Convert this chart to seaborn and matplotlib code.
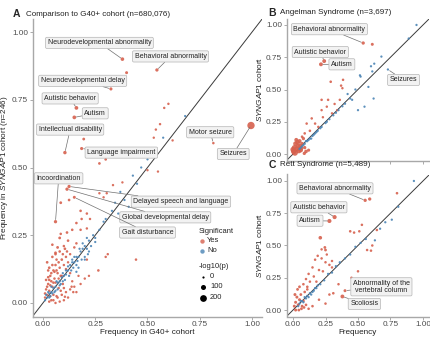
import matplotlib
matplotlib.use("Agg")
import matplotlib.pyplot as plt
import seaborn as sns
import pandas as pd

# ---------------- data ----------------
# Panel A (G40+ comparison) - significant points
a_yes_x = [0.38, 0.545, 0.325, 0.16, 0.15, 0.105, 0.185, 0.815, 0.995, 0.06, 0.125, 0.115, 0.15,
           0.40, 0.195, 0.27, 0.30, 0.58, 0.60, 0.54, 0.56, 0.62, 0.53,
           0.085, 0.125, 0.18, 0.21, 0.185, 0.16, 0.225, 0.14, 0.115, 0.18, 0.21, 0.08, 0.12, 0.16,
           0.07, 0.105, 0.15, 0.06, 0.09, 0.27, 0.305, 0.29, 0.335, 0.38, 0.445, 0.30, 0.265, 0.21,
           0.55, 0.50, 0.31, 0.02, 0.03, 0.045, 0.05, 0.035, 0.06, 0.07, 0.08, 0.04, 0.055, 0.025,
           0.015, 0.03, 0.045, 0.02, 0.01, 0.035, 0.06, 0.075, 0.09, 0.10, 0.11, 0.095, 0.13, 0.12,
           0.05, 0.07, 0.09, 0.11, 0.13, 0.15, 0.08, 0.12, 0.16, 0.18, 0.20, 0.22, 0.14, 0.06, 0.10,
           0.17, 0.137, 0.105, 0.145, 0.04, 0.065, 0.085, 0.03, 0.05, 0.075, 0.095, 0.025, 0.055,
           0.035, 0.065, 0.015, 0.045, 0.11, 0.085, 0.13, 0.10,
           0.01, 0.02, 0.03, 0.04, 0.05, 0.065, 0.075, 0.085, 0.025, 0.045, 0.06, 0.08, 0.10, 0.115]
a_yes_y = [0.90, 0.86, 0.79, 0.72, 0.685, 0.555, 0.57, 0.59, 0.655, 0.30, 0.43, 0.42, 0.39,
           0.85, 0.605, 0.515, 0.53, 0.72, 0.735, 0.64, 0.66, 0.60, 0.61,
           0.37, 0.38, 0.34, 0.33, 0.31, 0.295, 0.31, 0.27, 0.26, 0.27, 0.275, 0.24, 0.23, 0.22,
           0.205, 0.20, 0.205, 0.185, 0.16, 0.405, 0.405, 0.39, 0.435, 0.445, 0.16, 0.17, 0.12, 0.16,
           0.485, 0.49, 0.18, 0.15, 0.13, 0.17, 0.12, 0.10, 0.14, 0.11, 0.13, 0.08, 0.09, 0.07,
           0.05, 0.045, 0.06, 0.03, 0.02, 0.025, 0.075, 0.09, 0.10, 0.14, 0.17, 0.18, 0.18, 0.15,
           0.01, 0.02, 0.03, 0.04, 0.05, 0.06, 0.005, 0.02, 0.04, 0.07, 0.09, 0.10, 0.08, 0.0, 0.01,
           0.10, 0.06, 0.023, 0.04, 0.01, 0.025, 0.045, 0.005, 0.03, 0.055, 0.07, 0.095, 0.115,
           0.065, 0.16, 0.085, 0.215, 0.125, 0.255, 0.11, 0.055,
           0.035, 0.06, 0.085, 0.11, 0.075, 0.12, 0.15, 0.10, 0.12, 0.14, 0.18, 0.19, 0.21, 0.19]
a_yes_p = [40, 30, 25, 45, 45, 35, 25, 8, 240, 30, 30, 30, 20,
           20, 15, 12, 12, 6, 6, 6, 6, 5, 4,
           15, 12, 10, 8, 8, 10, 6, 10, 12, 8, 6, 15, 10, 8,
           15, 12, 8, 15, 12, 6, 6, 5, 5, 4, 8, 6, 10, 6,
           4, 4, 6, 12, 12, 10, 10, 10, 10, 8, 8, 10, 8, 10,
           8, 8, 8, 6, 6, 5, 6, 6, 5, 6, 8, 8, 6, 5,
           8, 8, 8, 6, 6, 5, 6, 6, 5, 5, 5, 4, 5, 6, 6,
           4, 6, 6, 6, 8, 8, 8, 8, 8, 8, 8, 10, 8,
           8, 8, 10, 10, 6, 8, 6, 8,
           10, 10, 10, 10, 10, 10, 10, 10, 10, 10, 10, 10, 8, 8]

# Panel A - non-significant points
a_no_x = [0.01, 0.02, 0.03, 0.04, 0.05, 0.06, 0.07, 0.08, 0.09, 0.10, 0.11, 0.12, 0.13, 0.14,
          0.15, 0.16, 0.17, 0.18, 0.19, 0.20, 0.21, 0.22, 0.24, 0.25, 0.27, 0.30, 0.33, 0.345,
          0.37, 0.41, 0.25, 0.20, 0.185, 0.43, 0.47, 0.50, 0.575, 0.68, 0.45, 0.015, 0.03, 0.04,
          0.055, 0.065, 0.08, 0.095, 0.105, 0.12, 0.135, 0.15, 0.16, 0.175, 0.14, 0.11, 0.07,
          0.045, 0.025, 0.20, 0.22, 0.19, 0.21, 0.23, 0.16, 0.17, 0.125, 0.085, 0.06, 0.035,
          0.145, 0.165, 0.095, 0.215, 0.39, 0.36, 0.29]
a_no_y = [0.01, 0.02, 0.035, 0.04, 0.055, 0.06, 0.075, 0.08, 0.095, 0.10, 0.12, 0.12, 0.14, 0.15,
          0.15, 0.17, 0.17, 0.19, 0.20, 0.21, 0.20, 0.23, 0.25, 0.24, 0.27, 0.31, 0.34, 0.37,
          0.41, 0.355, 0.225, 0.17, 0.16, 0.47, 0.50, 0.53, 0.61, 0.69, 0.44, 0.03, 0.02, 0.06,
          0.04, 0.08, 0.065, 0.11, 0.085, 0.135, 0.12, 0.17, 0.14, 0.20, 0.16, 0.105, 0.05,
          0.035, 0.04, 0.16, 0.19, 0.22, 0.24, 0.21, 0.115, 0.13, 0.10, 0.07, 0.045, 0.025,
          0.13, 0.155, 0.08, 0.18, 0.38, 0.33, 0.30]
a_no_p = [2, 2, 2, 2, 2, 2, 2, 2, 2, 2, 2, 2, 2, 2,
          2, 2, 2, 2, 2, 2, 2, 2, 1, 1, 1, 1, 1, 1,
          1, 1, 1, 1, 1, 1, 1, 1, 1, 1, 1, 2, 2, 2,
          2, 2, 2, 2, 2, 2, 2, 2, 2, 2, 2, 2, 2,
          2, 2, 1, 1, 1, 1, 1, 2, 2, 2, 2, 2, 2,
          2, 2, 2, 1, 1, 1, 1]

# Panel B (Angelman) - significant
b_yes_x = [0.54, 0.61, 0.24, 0.215, 0.29, 0.385, 0.37, 0.38, 0.27, 0.36, 0.22, 0.32, 0.26, 0.22,
           0.30, 0.34, 0.144, 0.17, 0.195, 0.13, 0.09, 0.07, 0.105, 0.23,
           0.005, 0.01, 0.02, 0.03, 0.04, 0.015, 0.05, 0.06, 0.025, 0.07, 0.08, 0.09, 0.10, 0.087,
           0.035, 0.045, 0.0, 0.055, 0.12, 0.065]
b_yes_y = [0.86, 0.85, 0.72, 0.695, 0.56, 0.575, 0.53, 0.51, 0.42, 0.42, 0.42, 0.388, 0.367, 0.34,
           0.315, 0.34, 0.276, 0.236, 0.21, 0.18, 0.16, 0.134, 0.236, 0.285,
           0.02, 0.05, 0.08, 0.04, 0.06, 0.01, 0.10, 0.03, 0.11, 0.08, 0.12, 0.05, 0.02, 0.005,
           0.09, 0.025, 0.035, 0.065, 0.03, 0.045]
b_yes_p = [30, 20, 50, 50, 10, 8, 8, 6, 8, 6, 8, 6, 6, 6,
           6, 6, 8, 8, 8, 10, 10, 12, 8, 6,
           120, 100, 90, 110, 80, 150, 60, 70, 50, 40, 30, 30, 40, 30,
           90, 100, 110, 60, 25, 50]

# Panel B - non-significant
b_no_x = [0.95, 0.89, 0.68, 0.625, 0.60, 0.61, 0.515, 0.52, 0.73, 0.42, 0.455, 0.50, 0.55, 0.62,
          0.58, 0.48, 0.10, 0.12, 0.15, 0.18, 0.21, 0.25, 0.28, 0.31, 0.35, 0.38, 0.40, 0.44,
          0.05, 0.07, 0.09, 0.11, 0.13, 0.16, 0.19, 0.06, 0.08, 0.14, 0.17, 0.22, 0.26, 0.33]
b_no_y = [1.0, 0.895, 0.755, 0.70, 0.68, 0.64, 0.61, 0.60, 0.655, 0.465, 0.42, 0.34, 0.367, 0.43,
          0.52, 0.50, 0.10, 0.11, 0.14, 0.17, 0.20, 0.24, 0.27, 0.30, 0.34, 0.37, 0.39, 0.43,
          0.04, 0.06, 0.08, 0.10, 0.12, 0.15, 0.18, 0.05, 0.07, 0.12, 0.16, 0.21, 0.25, 0.32]
b_no_p = [2, 2, 2, 2, 2, 2, 2, 2, 2, 2, 2, 2, 2, 2,
          2, 2, 3, 3, 3, 3, 3, 3, 3, 3, 3, 3, 3, 3,
          3, 3, 3, 3, 3, 3, 3, 3, 3, 3, 3, 3, 3, 3]

# Panel C (Rett) - significant
c_yes_x = [0.555, 0.59, 0.32, 0.28, 0.40, 0.38, 0.80, 0.21, 0.245, 0.25, 0.44, 0.47, 0.51, 0.61,
           0.60, 0.57, 0.53, 0.645, 0.31, 0.17, 0.19, 0.22, 0.25, 0.28, 0.15, 0.20, 0.23, 0.12,
           0.16, 0.10, 0.13, 0.18, 0.08, 0.11, 0.30, 0.30, 0.26, 0.22, 0.45, 0.50, 0.35, 0.28,
           0.20, 0.25, 0.15, 0.12, 0.01, 0.02, 0.03, 0.04, 0.05, 0.06, 0.07, 0.08, 0.09, 0.02,
           0.035, 0.05, 0.065, 0.015, 0.045, 0.10, 0.085, 0.11]
c_yes_y = [0.85, 0.86, 0.72, 0.69, 0.15, 0.105, 0.905, 0.56, 0.485, 0.465, 0.61, 0.60, 0.61, 0.50,
           0.46, 0.465, 0.66, 0.62, 0.13, 0.39, 0.42, 0.40, 0.37, 0.35, 0.33, 0.31, 0.30, 0.28,
           0.26, 0.24, 0.22, 0.22, 0.20, 0.18, 0.33, 0.38, 0.43, 0.47, 0.25, 0.30, 0.20, 0.12,
           0.08, 0.05, 0.03, 0.01, 0.03, 0.06, 0.10, 0.04, 0.08, 0.12, 0.03, 0.07, 0.14, 0.0,
           0.16, 0.18, 0.01, 0.12, 0.0, 0.04, 0.02, 0.16]
c_yes_p = [30, 30, 60, 60, 20, 50, 10, 40, 15, 15, 10, 8, 8, 8,
           8, 8, 8, 8, 10, 8, 8, 8, 8, 8, 8, 8, 8, 8,
           8, 8, 8, 8, 10, 10, 6, 6, 6, 6, 8, 8, 8, 8,
           8, 8, 10, 10, 20, 20, 20, 20, 20, 15, 15, 15, 12, 20,
           15, 15, 15, 20, 15, 12, 12, 10]

# Panel C - non-significant
c_no_x = [0.93, 0.81, 0.63, 0.76, 0.05, 0.07, 0.09, 0.11, 0.13, 0.15, 0.17, 0.19, 0.21, 0.24,
          0.27, 0.30, 0.33, 0.36, 0.40, 0.44, 0.48, 0.52, 0.56, 0.04, 0.06, 0.08, 0.10, 0.12,
          0.14, 0.16, 0.18, 0.67, 0.71]
c_no_y = [1.0, 0.80, 0.54, 0.70, 0.05, 0.07, 0.10, 0.11, 0.13, 0.14, 0.17, 0.19, 0.20, 0.23,
          0.28, 0.29, 0.34, 0.37, 0.40, 0.43, 0.49, 0.52, 0.55, 0.03, 0.07, 0.06, 0.09, 0.10,
          0.12, 0.15, 0.17, 0.63, 0.68]
c_no_p = [2, 2, 2, 2, 3, 3, 3, 3, 3, 3, 3, 3, 3, 3,
          2, 2, 2, 2, 2, 2, 2, 2, 2, 3, 3, 3, 3, 3,
          3, 3, 3, 2, 2]

# labels: text, point position, label position
a_lab_text = ["Neurodevelopmental abnormality", "Behavioral abnormality", "Neurodevelopmental delay",
              "Autistic behavior", "Autism", "Intellectual disability", "Language impairment",
              "Motor seizure", "Seizures", "Incoordination", "Delayed speech and language",
              "Global developmental delay", "Gait disturbance"]
a_lab_px = [0.38, 0.545, 0.325, 0.16, 0.15, 0.105, 0.185, 0.815, 0.995, 0.06, 0.125, 0.115, 0.15]
a_lab_py = [0.90, 0.86, 0.79, 0.72, 0.685, 0.555, 0.57, 0.59, 0.655, 0.30, 0.43, 0.42, 0.39]
a_lab_tx = [0.27, 0.61, 0.19, 0.13, 0.25, 0.13, 0.375, 0.80, 0.91, 0.075, 0.66, 0.585, 0.50]
a_lab_ty = [0.96, 0.91, 0.82, 0.755, 0.70, 0.64, 0.555, 0.63, 0.55, 0.46, 0.374, 0.316, 0.26]

b_lab_text = ["Behavioral abnormality", "Autistic behavior", "Autism", "Seizures"]
b_lab_px = [0.54, 0.24, 0.215, 0.73]
b_lab_py = [0.86, 0.72, 0.695, 0.655]
b_lab_tx = [0.28, 0.21, 0.376, 0.85]
b_lab_ty = [0.967, 0.79, 0.695, 0.574]

c_lab_text = ["Behavioral abnormality", "Autistic behavior", "Autism",
              "Abnormality of the\nvertebral column", "Scoliosis"]
c_lab_px = [0.555, 0.32, 0.28, 0.40, 0.38]
c_lab_py = [0.85, 0.72, 0.69, 0.15, 0.105]
c_lab_tx = [0.323, 0.199, 0.131, 0.68, 0.549]
c_lab_ty = [0.943, 0.796, 0.692, 0.18, 0.047]

ticks = [0.0, 0.25, 0.5, 0.75, 1.0]
tick_labels = ["0.00", "0.25", "0.50", "0.75", "1.00"]

# ---------------- style ----------------
sns.set_theme(style="white")
plt.rcParams["font.family"] = ["Liberation Sans", "DejaVu Sans"]
plt.rcParams["mathtext.fontset"] = "custom"
plt.rcParams["mathtext.rm"] = "Liberation Sans"
plt.rcParams["mathtext.it"] = "Liberation Sans:italic"

RED = "#D6604D"
BLUE = "#4A84B5"
PAL = {"Yes": RED, "No": BLUE}
SIZES = (2.5, 30.0)
SNORM = (0, 260)
TICK_FS = 5.9
LAB_FS = 5.9

W, H = 431, 338
fig = plt.figure(figsize=(W / 100, H / 100), dpi=100)


def px_axes(left, top, right, bottom):
    return fig.add_axes([left / W, 1 - bottom / H, (right - left) / W, (bottom - top) / H])


axA = px_axes(32.5, 18.5, 262.5, 316.5)
axB = px_axes(286.5, 18.5, 429.5, 160.5)
axC = px_axes(286.5, 174.5, 429.5, 316.5)


def make_df(yx, yy, yp, nx, ny, npv):
    d1 = pd.DataFrame({"x": yx, "y": yy, "logp": yp, "sig": "Yes"})
    d2 = pd.DataFrame({"x": nx, "y": ny, "logp": npv, "sig": "No"})
    return pd.concat([d1, d2], ignore_index=True)


def draw(ax, df, lt, lpx, lpy, ltx, lty, xlabels=True):
    ax.axline((0, 0), (1, 1), color="#3a3a3a", lw=0.7, zorder=1)
    sns.scatterplot(data=df, x="x", y="y", hue="sig", size="logp", palette=PAL,
                    sizes=SIZES, size_norm=SNORM, linewidth=0, alpha=0.9,
                    legend=False, ax=ax, zorder=2)
    ax.set_xlim(-0.05, 1.05)
    ax.set_ylim(-0.05, 1.05)
    ax.set_xticks(ticks)
    ax.set_yticks(ticks)
    ax.set_yticklabels(tick_labels)
    if xlabels:
        ax.set_xticklabels(tick_labels)
    else:
        ax.set_xticklabels([])
    for s in ["top", "right"]:
        ax.spines[s].set_visible(False)
    for s in ["left", "bottom"]:
        ax.spines[s].set_color("#a8a8a8")
        ax.spines[s].set_linewidth(1.0)
    ax.tick_params(axis="both", length=2, width=0.5, color="#888888", pad=1.2,
                   labelsize=TICK_FS, labelcolor="#4d4d4d", left=True, bottom=True)
    for t, px, py, tx, ty in zip(lt, lpx, lpy, ltx, lty):
        ax.annotate(t, xy=(px, py), xytext=(tx, ty), fontsize=5, color="#222222",
                    ha="center", va="center", linespacing=1.0,
                    bbox=dict(boxstyle="round,pad=0.3,rounding_size=0.2", fc="#f2f2f2",
                              ec="#b5b5b5", lw=0.5),
                    arrowprops=dict(arrowstyle="-", color="#707070", lw=0.5,
                                    shrinkA=0, shrinkB=1.5),
                    zorder=5)


dfA = make_df(a_yes_x, a_yes_y, a_yes_p, a_no_x, a_no_y, a_no_p)
dfB = make_df(b_yes_x, b_yes_y, b_yes_p, b_no_x, b_no_y, b_no_p)
dfC = make_df(c_yes_x, c_yes_y, c_yes_p, c_no_x, c_no_y, c_no_p)

draw(axA, dfA, a_lab_text, a_lab_px, a_lab_py, a_lab_tx, a_lab_ty)
draw(axB, dfB, b_lab_text, b_lab_px, b_lab_py, b_lab_tx, b_lab_ty, xlabels=False)
draw(axC, dfC, c_lab_text, c_lab_px, c_lab_py, c_lab_tx, c_lab_ty)

axA.set_xlabel("Frequency in G40+ cohort", fontsize=LAB_FS, labelpad=0.8, color="#222222")
axA.set_ylabel(r"Frequency in $\mathit{SYNGAP1}$ cohort (n=246)", fontsize=LAB_FS,
               labelpad=1.5, color="#222222")
axB.set_xlabel("")
axB.set_ylabel(r"$\mathit{SYNGAP1}$ cohort", fontsize=LAB_FS, labelpad=1.5, color="#222222")
axC.set_xlabel("Frequency", fontsize=LAB_FS, labelpad=0.8, color="#222222")
axC.set_ylabel(r"$\mathit{SYNGAP1}$ cohort", fontsize=LAB_FS, labelpad=1.5, color="#222222")


def title(xl, xt, yp, letter, text):
    fig.text(xl / W, 1 - yp / H, letter, fontsize=7.5, fontweight="bold", va="center", ha="left")
    fig.text(xt / W, 1 - yp / H, text, fontsize=5.8, va="center", ha="left", color="#222222")


title(12.5, 26, 14, "A", "Comparison to G40+ cohort (n=680,076)")
title(268.5, 280, 13, "B", "Angelman Syndrome (n=3,697)")
title(268.5, 280, 165, "C", "Rett Syndrome (n=5,489)")


# legend in panel A (positions in axes fraction)
def fa(px, py):
    return ((px - 32.5) / 230, (316.5 - py) / 298)


def size_of(v):
    return SIZES[0] + (SIZES[1] - SIZES[0]) * (v - SNORM[0]) / (SNORM[1] - SNORM[0])


tr = axA.transAxes
x0, y0 = fa(199, 231.5)
axA.text(x0, y0, "Significant", transform=tr, fontsize=5.4, va="center", ha="left",
         color="#222222")
for lab, col, py in [("Yes", RED, 240.5), ("No", BLUE, 250.5)]:
    mx, my = fa(202.5, py)
    axA.scatter([mx], [my], s=10, color=col, alpha=0.8, linewidth=0, transform=tr, clip_on=False)
    tx, ty = fa(207, py)
    axA.text(tx, ty, lab, transform=tr, fontsize=5.4, va="center", ha="left", color="#222222")
x0, y0 = fa(199, 266.5)
axA.text(x0, y0, "-log10(p)", transform=tr, fontsize=5.4, va="center", ha="left",
         color="#222222")
for v, py in [(0, 276.5), (100, 286.5), (200, 297.5)]:
    mx, my = fa(203, py)
    axA.scatter([mx], [my], s=size_of(v), color="black", linewidth=0, transform=tr,
                clip_on=False)
    tx, ty = fa(210, py)
    axA.text(tx, ty, str(v), transform=tr, fontsize=5.4, va="center", ha="left",
             color="#222222")

fig.savefig("out.png", dpi=100)
